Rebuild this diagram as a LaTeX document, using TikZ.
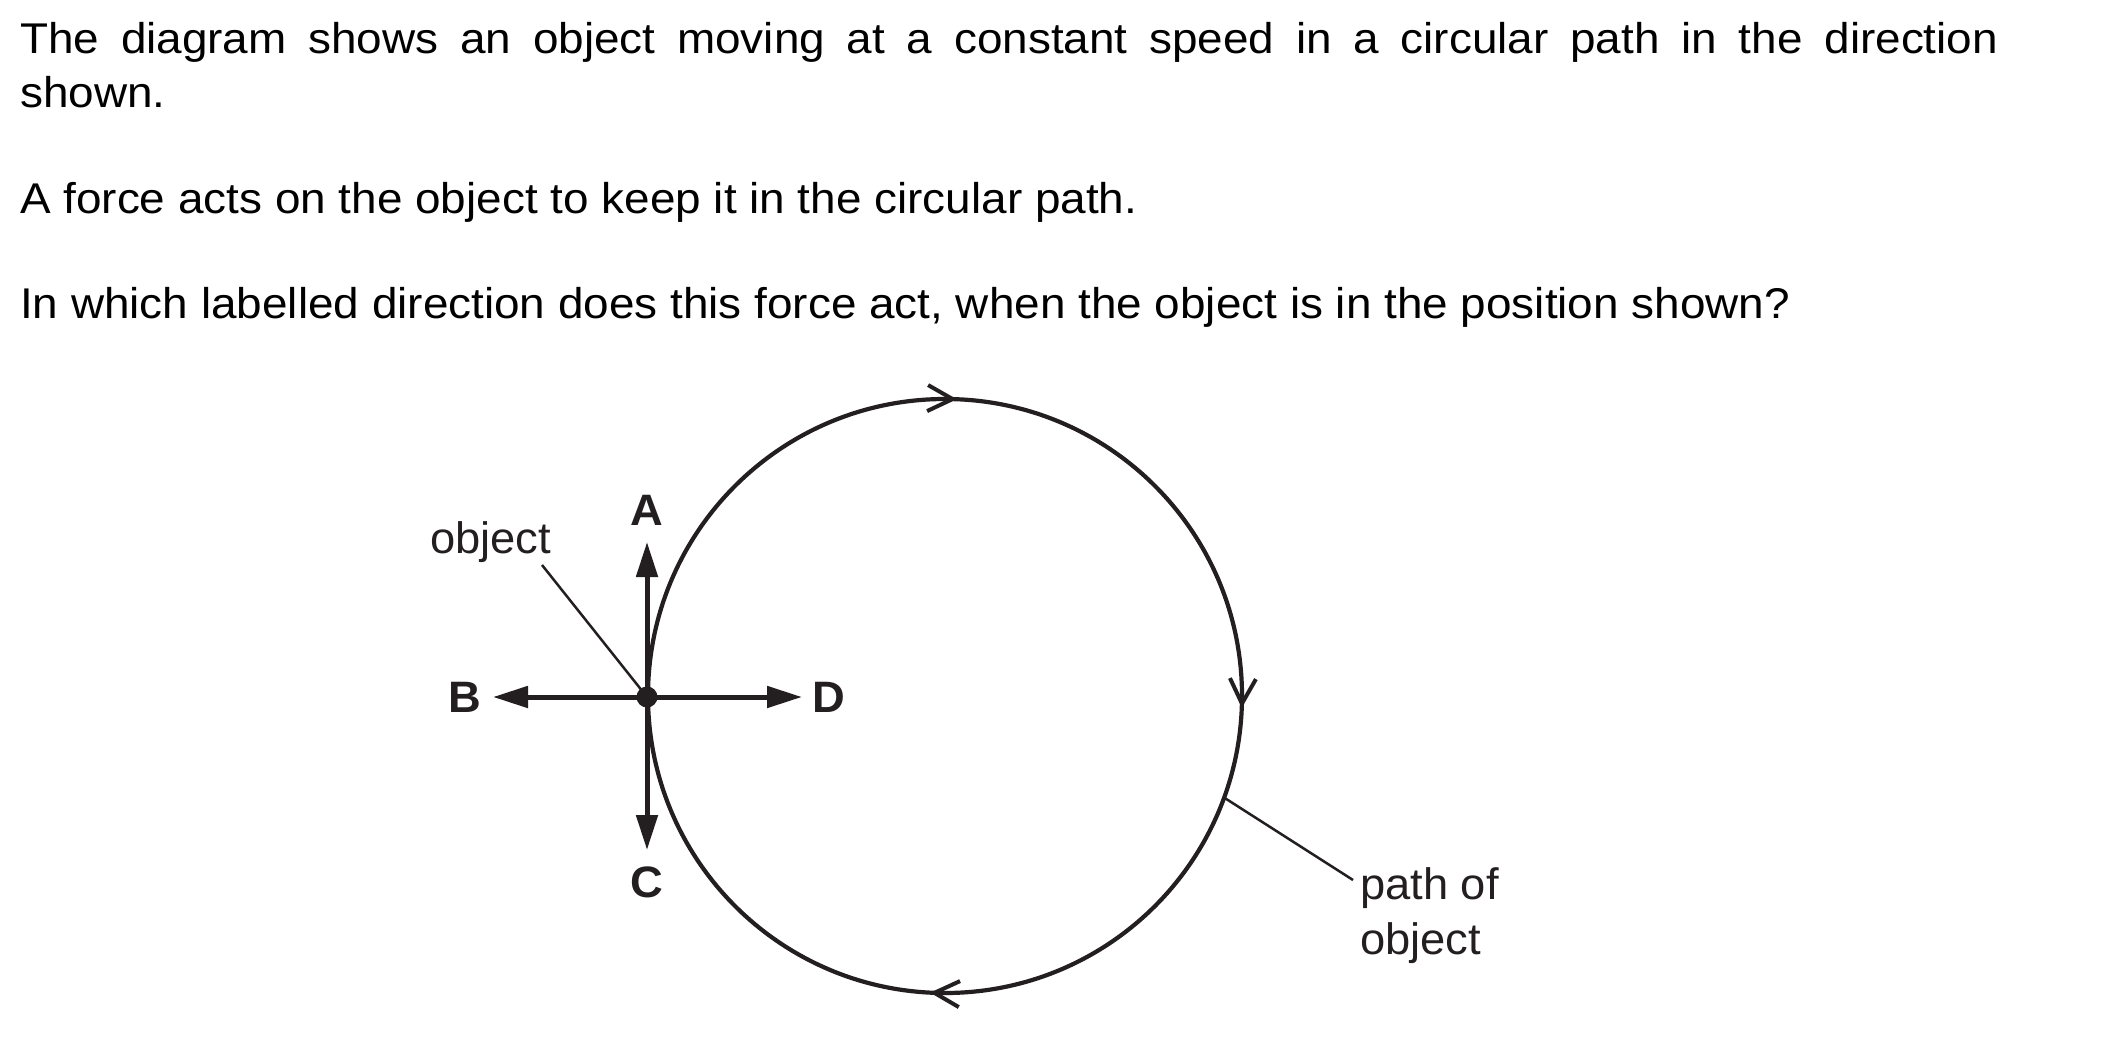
\documentclass[tikz,border=0pt]{standalone}
\usepackage{fontspec}
\setmainfont{Liberation Sans}
\newfontfamily\hdrfont[FakeStretch=1.067]{Liberation Sans}
\newfontfamily\labfont[FakeStretch=1.03]{Liberation Sans}
\usetikzlibrary{arrows.meta,decorations.markings}
\definecolor{ink}{RGB}{35,31,32}
\tikzset{
  hdr/.style={anchor=base west, inner sep=0pt, font=\hdrfont\fontsize{43}{53}\selectfont, text=black},
  lab/.style={anchor=base west, inner sep=0pt, font=\labfont\fontsize{44}{55}\selectfont, text=ink},
  dirlab/.style={anchor=base, inner sep=0pt, font=\labfont\fontsize{44}{55}\selectfont\bfseries, text=ink},
  force/.style={draw=ink, line width=5pt, -{Triangle[length=35pt,width=21pt]}},
  leader/.style={draw=ink, line width=2.5pt},
  pathline/.style={draw=ink, line width=4.2pt},
  mybarb/.tip={Straight Barb[length=25pt,width=26pt,line width=4pt]},
  circarrows/.style={postaction={decorate}, decoration={markings,
    mark=at position 0.0064 with {\arrow[ink]{mybarb}},
    mark=at position 0.258 with {\arrow[ink]{mybarb}},
    mark=at position 0.7564 with {\arrow[ink]{mybarb}}}}
}
\begin{document}
\begin{tikzpicture}[x=1pt,y=1pt]
\useasboundingbox[fill=white] (0,0) rectangle (2101,-1049);
% question text
\node[hdr] (l1) at (20,-53) {\makebox[1978pt][s]{The diagram shows an object moving at a constant speed in a circular path in the direction}};
\node[hdr] (l2) at (20,-107) {shown.};
\node[hdr] (l3) at (20,-213) {A force acts on the object to keep it in the circular path.};
\node[hdr] (l4) at (20,-318) {In which labelled direction does this force act, when the object is in the position shown?};
% circular path
\coordinate (ctr) at (945,-696);
\draw[pathline, circarrows] (ctr) ++(0:297) arc[start angle=0, end angle=-360, radius=297];
% object
\node[circle, fill=ink, inner sep=0pt, minimum size=21pt] (obj) at (647,-697) {};
\coordinate (tipA) at (647,-542);
\coordinate (tipC) at (647,-850);
\coordinate (tipB) at (493,-697);
\coordinate (tipD) at (802,-697);
\draw[force] (obj.center) -- (tipA);
\draw[force] (obj.center) -- (tipC);
\draw[force] (obj.center) -- (tipB);
\draw[force] (obj.center) -- (tipD);
\node[dirlab] (A) at (647,-525) {A};
\node[dirlab] (B) at (465,-712) {B};
\node[dirlab] (C) at (647,-897) {C};
\node[dirlab] (D) at (829,-712) {D};
% labels and leaders
\node[lab] (objlab) at (430,-553) {object};
\coordinate (objlead) at (542,-565);
\draw[leader] (objlead) -- (obj.center);
\coordinate (pathpt) at ([shift={(-20:297)}]ctr);
\coordinate (pathlead) at (1353,-880);
\draw[leader] (pathpt) -- (pathlead);
\node[lab] (pathlab1) at (1360,-899) {path of};
\node[lab] (pathlab2) at (1360,-954) {object};
\end{tikzpicture}
\end{document}
